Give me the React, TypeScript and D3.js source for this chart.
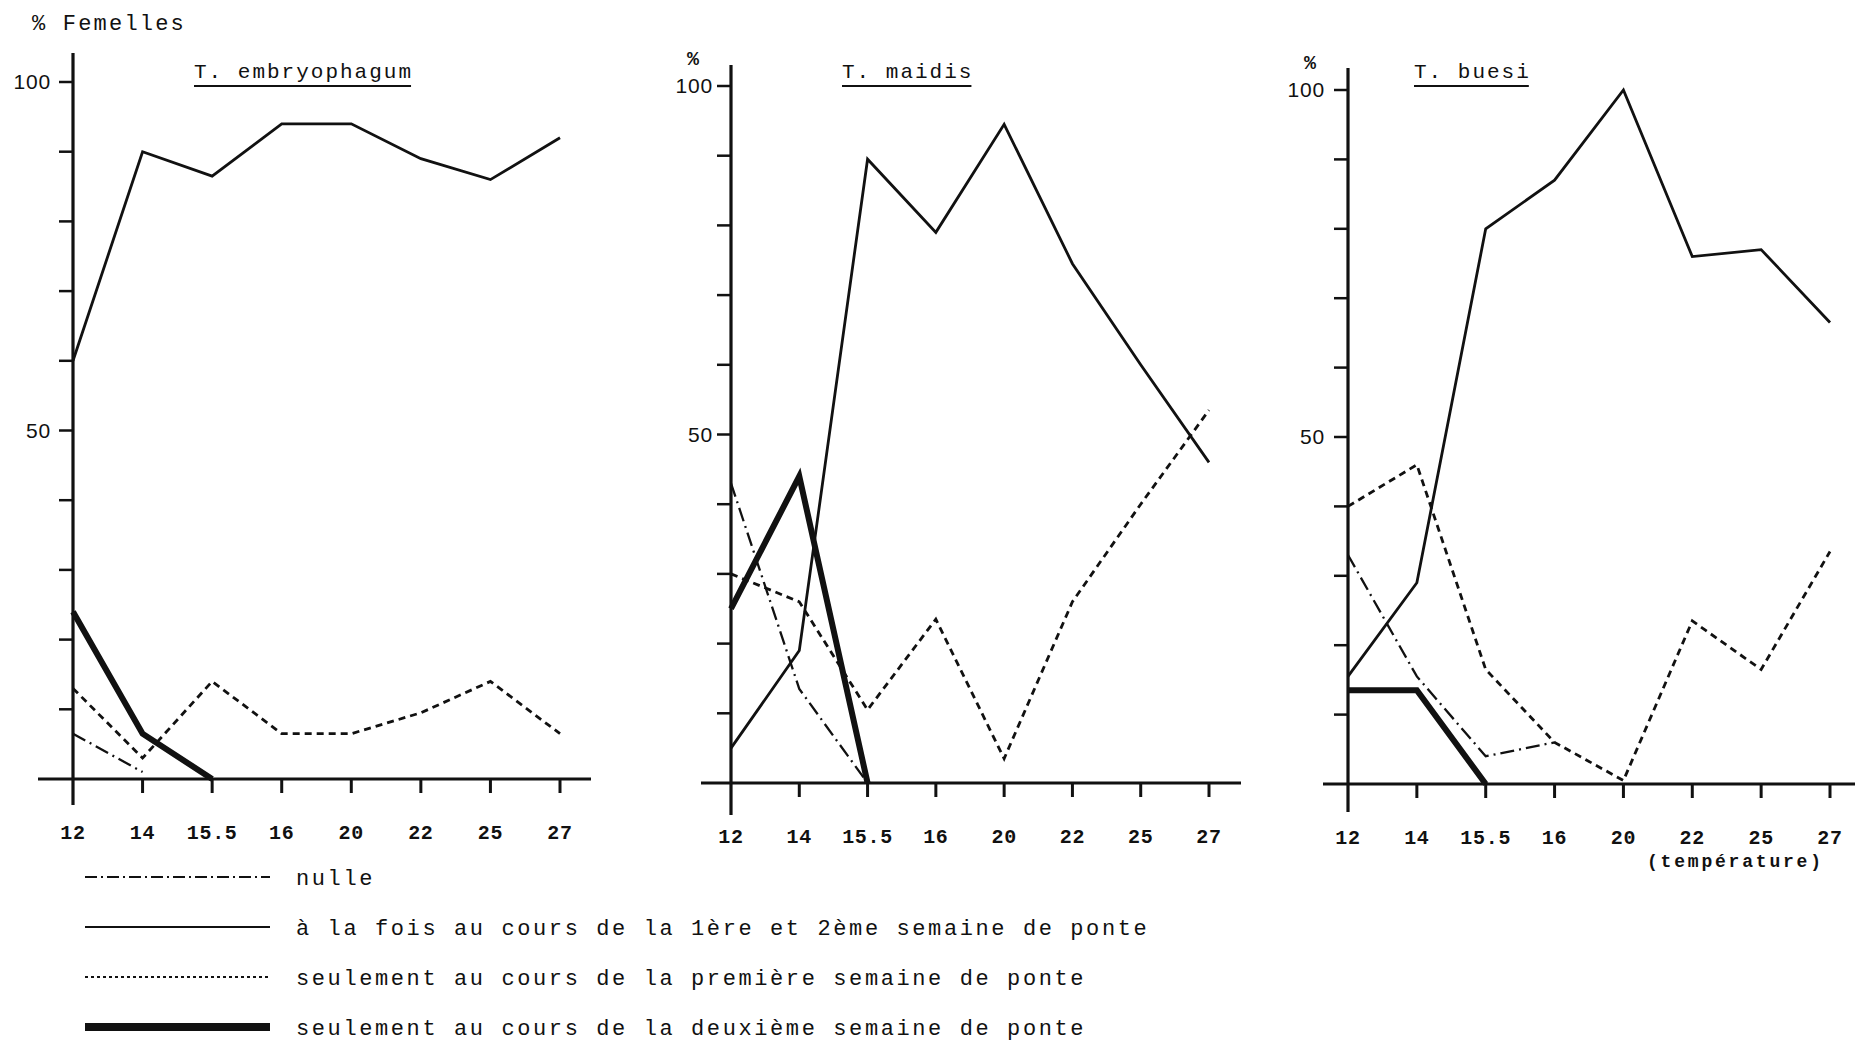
import React, { useEffect, useRef } from 'react';
import * as d3 from 'd3';

// temperatures (x categories, equally spaced)
const temperatures = ['12', '14', '15.5', '16', '20', '22', '25', '27'];

// T. embryophagum
const embryoNulle = [6.5, 1, null, null, null, null, null, null];
const embryoBoth = [60, 90, 86.5, 94, 94, 89, 86, 92];
const embryoFirst = [13, 3, 14, 6.5, 6.5, 9.5, 14, 6.5];
const embryoSecond = [24, 6.5, 0, null, null, null, null, null];

// T. maidis
const maidisNulle = [43, 13.5, 0, null, null, null, null, null];
const maidisBoth = [5, 19, 89.5, 79, 94.5, 74.5, 60, 46];
const maidisFirst = [30, 26, 10.5, 23.5, 3.5, 26, 40, 53.5];
const maidisSecond = [25, 44, 0, null, null, null, null, null];

// T. buesi
const buesiNulle = [33, 15.5, 4, 6, null, null, null, null];
const buesiBoth = [15.5, 29, 80, 87, 100, 76, 77, 66.5];
const buesiFirst = [40, 46, 16.5, 6, 0.5, 23.5, 16.5, 33.5];
const buesiSecond = [13.5, 13.5, 0, null, null, null, null, null];

const yTicks = [0, 10, 20, 30, 40, 50, 60, 70, 80, 90, 100];
const yLabels = [50, 100];

const legendLabels = [
  'nulle',
  'à la fois au cours de la 1ère et 2ème semaine de ponte',
  'seulement au cours de la première semaine de ponte',
  'seulement au cours de la deuxième semaine de ponte',
];

const styles = [
  { width: 2.3, dash: '14 5 2 5' },
  { width: 2.8, dash: null },
  { width: 2.8, dash: '7 5' },
  { width: 6, dash: null },
];

const panels = [
  {
    title: 'T. embryophagum', series: [embryoNulle, embryoBoth, embryoFirst, embryoSecond],
    x0: 73, x1: 560, y0: 779, y100: 82, axL: 38, axR: 591, axTop: 53, axBot: 805,
    titleX: 194, labelGap: 22, pct: false,
  },
  {
    title: 'T. maidis', series: [maidisNulle, maidisBoth, maidisFirst, maidisSecond],
    x0: 731, x1: 1209, y0: 783, y100: 86, axL: 701, axR: 1241, axTop: 65, axBot: 815,
    titleX: 842, labelGap: 18, pct: true,
  },
  {
    title: 'T. buesi', series: [buesiNulle, buesiBoth, buesiFirst, buesiSecond],
    x0: 1348, x1: 1830, y0: 784, y100: 90, axL: 1323, axR: 1855, axTop: 68, axBot: 812,
    titleX: 1414, labelGap: 23, pct: true,
  },
];

const mono = '"Liberation Mono", "DejaVu Sans Mono", monospace';
const ink = '#111';

const App = () => {
  const svgRef = useRef(null);

  useEffect(() => {
    const svg = d3.select(svgRef.current);
    svg.selectAll('*').remove();

    svg.append('rect').attr('width', 1855).attr('height', 1043).attr('fill', '#fff');

    svg.append('text')
      .attr('x', 32).attr('y', 30)
      .attr('font-family', mono).attr('font-size', 22).attr('letter-spacing', 2.2)
      .attr('fill', ink)
      .text('% Femelles');

    panels.forEach(p => {
      const x = d3.scalePoint().domain(temperatures).range([p.x0, p.x1]);
      const y = d3.scaleLinear().domain([0, 100]).range([p.y0, p.y100]);
      const g = svg.append('g');

      // axes
      g.append('line')
        .attr('x1', p.axL).attr('x2', p.axR).attr('y1', y(0)).attr('y2', y(0))
        .attr('stroke', ink).attr('stroke-width', 3);
      g.append('line')
        .attr('x1', x('12')).attr('x2', x('12')).attr('y1', p.axTop).attr('y2', p.axBot)
        .attr('stroke', ink).attr('stroke-width', 3.2);

      g.selectAll('.ytick').data(yTicks.filter(t => t > 0)).join('line')
        .attr('x1', x('12') - 14).attr('x2', x('12'))
        .attr('y1', d => y(d)).attr('y2', d => y(d))
        .attr('stroke', ink).attr('stroke-width', 2.5);

      g.selectAll('.ylab').data(yLabels).join('text')
        .attr('x', x('12') - p.labelGap).attr('y', d => y(d))
        .attr('dy', '0.35em').attr('text-anchor', 'end')
        .attr('font-family', '"Liberation Sans", sans-serif')
        .attr('font-size', 21).attr('letter-spacing', 0.8).attr('fill', ink)
        .text(d => d);

      g.selectAll('.xtick').data(temperatures.slice(1)).join('line')
        .attr('x1', d => x(d)).attr('x2', d => x(d))
        .attr('y1', y(0)).attr('y2', y(0) + 14)
        .attr('stroke', ink).attr('stroke-width', 3);

      g.selectAll('.xlab').data(temperatures).join('text')
        .attr('x', d => x(d)).attr('y', y(0) + 60)
        .attr('text-anchor', 'middle')
        .attr('font-family', mono).attr('font-size', 20).attr('letter-spacing', 0.7)
        .attr('font-weight', 'bold')
        .attr('fill', ink)
        .text(d => d);

      if (p.pct) {
        g.append('text')
          .attr('x', x('12') - 44).attr('y', y(100) - 21)
          .attr('font-family', mono).attr('font-size', 20).attr('font-weight', 'bold')
          .attr('fill', ink)
          .text('%');
      }

      // title with underline
      const title = g.append('text')
        .attr('x', p.titleX).attr('y', 78)
        .attr('font-family', mono).attr('font-size', 21).attr('letter-spacing', 2)
        .attr('fill', ink)
        .text(p.title);
      const tw = title.node().getComputedTextLength() - 2;
      g.append('line')
        .attr('x1', p.titleX).attr('x2', p.titleX + tw)
        .attr('y1', 86).attr('y2', 86)
        .attr('stroke', ink).attr('stroke-width', 2.2);

      // series
      const line = d3.line()
        .defined(d => d[1] != null)
        .x(d => x(d[0]))
        .y(d => y(d[1]));

      p.series.forEach((vals, i) => {
        const pts = temperatures.map((t, j) => [t, vals[j]]);
        g.append('path')
          .datum(pts)
          .attr('d', line)
          .attr('fill', 'none')
          .attr('stroke', ink)
          .attr('stroke-width', styles[i].width)
          .attr('stroke-linejoin', 'miter')
          .attr('stroke-dasharray', styles[i].dash);
      });
    });

    svg.append('text')
      .attr('x', 1647).attr('y', 867)
      .attr('font-family', mono).attr('font-size', 18).attr('letter-spacing', 2.8)
      .attr('font-weight', 'bold')
      .attr('fill', ink)
      .text('(température)');

    // legend
    const legendY = d3.scalePoint().domain(d3.range(legendLabels.length)).range([877, 1027]);
    const legendDash = ['12 4 2 4', null, '3 3', null];
    const lg = svg.append('g');
    legendLabels.forEach((label, i) => {
      lg.append('line')
        .attr('x1', 85).attr('x2', 270)
        .attr('y1', legendY(i)).attr('y2', legendY(i))
        .attr('stroke', ink)
        .attr('stroke-width', i === 3 ? 8 : 2)
        .attr('stroke-dasharray', legendDash[i]);
      lg.append('text')
        .attr('x', 296).attr('y', legendY(i) + 8)
        .attr('font-family', mono).attr('font-size', 22).attr('letter-spacing', 2.6)
        .attr('fill', ink)
        .text(label);
    });
  }, []);

  return (
    <div style={{ position: 'absolute', left: 0, top: 0 }}>
      <svg ref={svgRef} width={1855} height={1043} style={{ display: 'block' }} />
    </div>
  );
};

export default App;
